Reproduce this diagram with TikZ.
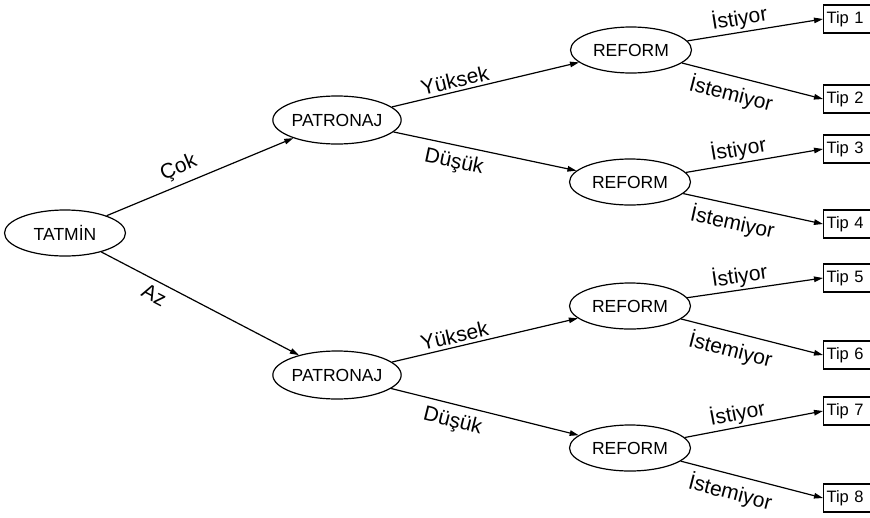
\documentclass[tikz,border=0pt]{standalone}
\usepackage{fontspec}
\setmainfont{Liberation Sans}
\usetikzlibrary{shapes.geometric,arrows.meta}
\begin{document}
\begin{tikzpicture}[x=1pt,y=-1pt,
  ell/.style={draw,ellipse,line width=1.2pt,minimum width=121pt,minimum height=46pt,inner sep=0pt,font=\fontsize{17.5}{19}\selectfont},
  tipbox/.style={draw,line width=1.2pt,rectangle,minimum height=28pt,inner xsep=3pt,inner ysep=0pt,text width=46pt,align=left,anchor=west,font=\fontsize{16.5}{18}\selectfont},
  arr/.style={line width=1.2pt,-{Triangle[length=9pt,width=5.5pt]}},
  lbl/.style={font=\fontsize{21}{23}\selectfont,sloped,inner sep=1pt}]
\useasboundingbox (0,0) rectangle (870,517);
\clip (0,0) rectangle (870,517);
\node[ell] (t) at (65,233) {TATMİN};
\node[ell,minimum height=48pt] (p1) at (337,120) {PATRONAJ};
\node[ell,minimum height=48pt] (p2) at (337,375) {PATRONAJ};
\node[ell] (r1) at (631,50) {REFORM};
\node[ell] (r2) at (630,182) {REFORM};
\node[ell] (r3) at (630,306) {REFORM};
\node[ell] (r4) at (630,448) {REFORM};
\node[tipbox] (b1) at (823,19) {Tip 1};
\node[tipbox] (b2) at (823,99) {Tip 2};
\node[tipbox] (b3) at (823,149) {Tip 3};
\node[tipbox] (b4) at (823,224) {Tip 4};
\node[tipbox] (b5) at (823,278) {Tip 5};
\node[tipbox] (b6) at (823,355) {Tip 6};
\node[tipbox] (b7) at (823,411) {Tip 7};
\node[tipbox] (b8) at (823,498) {Tip 8};
\draw[arr] (t) -- node[lbl,pos=0.42,above=5pt] {Çok} (p1);
\draw[arr] (t) -- node[lbl,pos=0.3,below=5pt] {Az} (p2);
\draw[arr] (p1) -- node[lbl,pos=0.35,above=2pt] {Yüksek} (r1);
\draw[arr] (p1) -- node[lbl,pos=0.35,below=6pt] {Düşük} (r2);
\draw[arr] (p2) -- node[lbl,pos=0.35,above=2pt] {Yüksek} (r3);
\draw[arr] (p2) -- node[lbl,pos=0.35,below=6pt] {Düşük} (r4);
\foreach \r/\a/\b in {r1/b1/b2,r2/b3/b4,r3/b5/b6,r4/b7/b8}{
  \draw[arr] (\r) -- node[lbl,pos=0.4,above=1pt] {İstiyor} (\a.west);
  \draw[arr] (\r) -- node[lbl,pos=0.38,below=5pt] {İstemiyor} (\b.west);
}
\end{tikzpicture}
\end{document}
